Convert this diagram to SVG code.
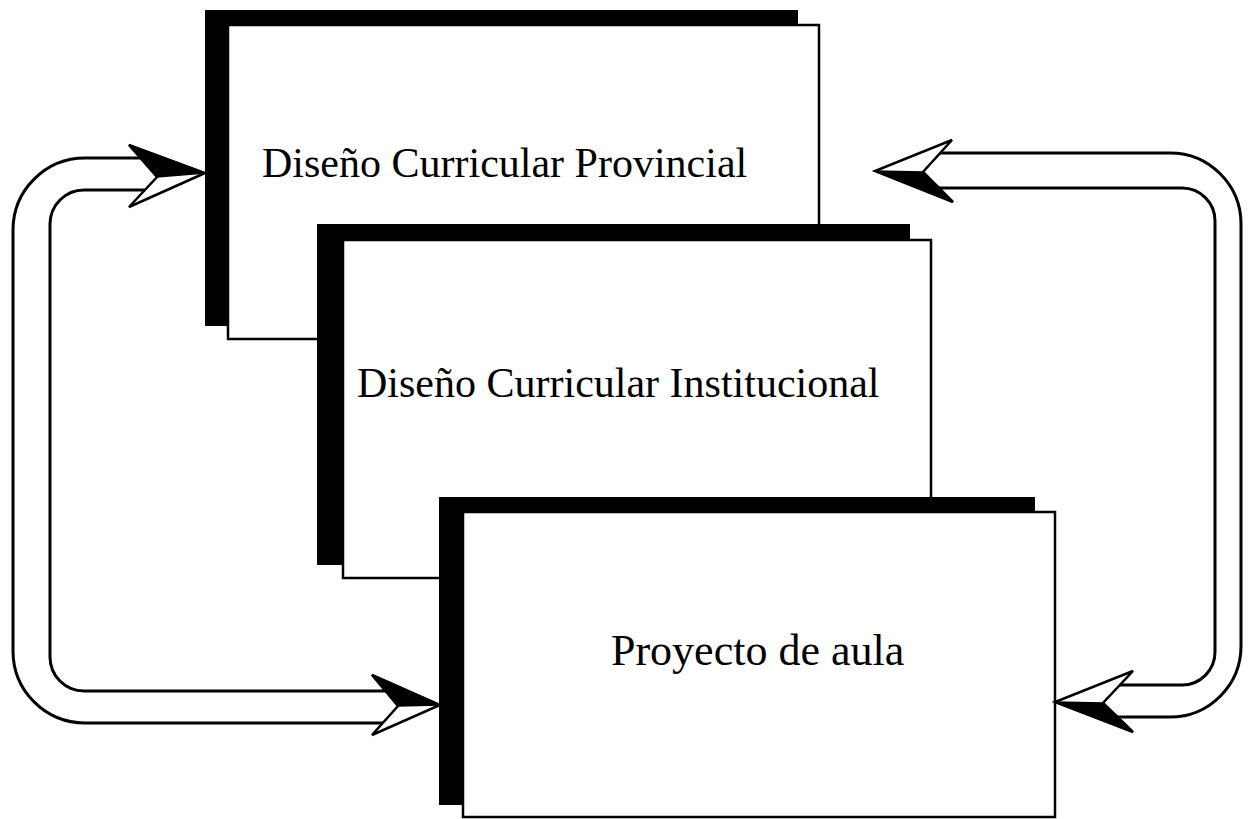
<svg xmlns="http://www.w3.org/2000/svg" width="1248" height="819" viewBox="0 0 1248 819">
<style>
.shadow{fill:#000}
.box{fill:#fff;stroke:#000;stroke-width:2.5}
.lbl{font-family:"Liberation Serif","Times New Roman",serif;fill:#000}
.line{fill:none;stroke:#000;stroke-width:3}
.head{fill:#fff;stroke:#000;stroke-width:2.5;stroke-linejoin:miter}
.dark{fill:#000;stroke:#000;stroke-width:1.5}
</style>
<rect width="1248" height="819" fill="#fff"/>
<g id="node-provincial">
<rect class="shadow" x="205" y="10" width="593" height="316"/>
<rect class="box" x="228" y="25" width="591" height="314"/>
<text class="lbl" x="262" y="177" font-size="42">Diseño Curricular Provincial</text>
</g>
<g id="node-institucional">
<rect class="shadow" x="317" y="224" width="593" height="341"/>
<rect class="box" x="343" y="240" width="588" height="338"/>
<text class="lbl" x="357" y="397" font-size="42">Diseño Curricular Institucional</text>
</g>
<g id="node-aula">
<rect class="shadow" x="439" y="497" width="596" height="308"/>
<rect class="box" x="463" y="512" width="592" height="305"/>
<text class="lbl" x="611" y="665" font-size="44">Proyecto de aula</text>
</g>
<g id="connectors">
<path class="line" d="M140.4,158 H85 A72,72 0 0 0 13,230 V651 A72,72 0 0 0 85,723 H382.8"/>
<path class="line" d="M144.9,190 H84 A34,34 0 0 0 50,224 V657 A34,34 0 0 0 84,691 H385.4"/>
<polygon class="head" points="129,145 205,173 129,207 157,177"/>
<polygon class="dark" points="129,145 205,173 157,177"/>
<polygon class="head" points="372,675 440,705 372,735 398,706"/>
<polygon class="dark" points="372,675 440,705 398,706"/>
<path class="line" d="M940,153 H1170 A71,71 0 0 1 1241,224 V646 A71,71 0 0 1 1170,717 H1117"/>
<path class="line" d="M939,188 H1182 A33,33 0 0 1 1215,221 V652 A33,33 0 0 1 1182,685 H1120"/>
<polygon class="head" points="952,140 875,171 953,202 923,172"/>
<polygon class="dark" points="923,172 875,171 953,202"/>
<polygon class="head" points="1133,671 1055,702 1133,732 1103,703"/>
<polygon class="dark" points="1103,703 1055,702 1133,732"/>
</g>
</svg>
